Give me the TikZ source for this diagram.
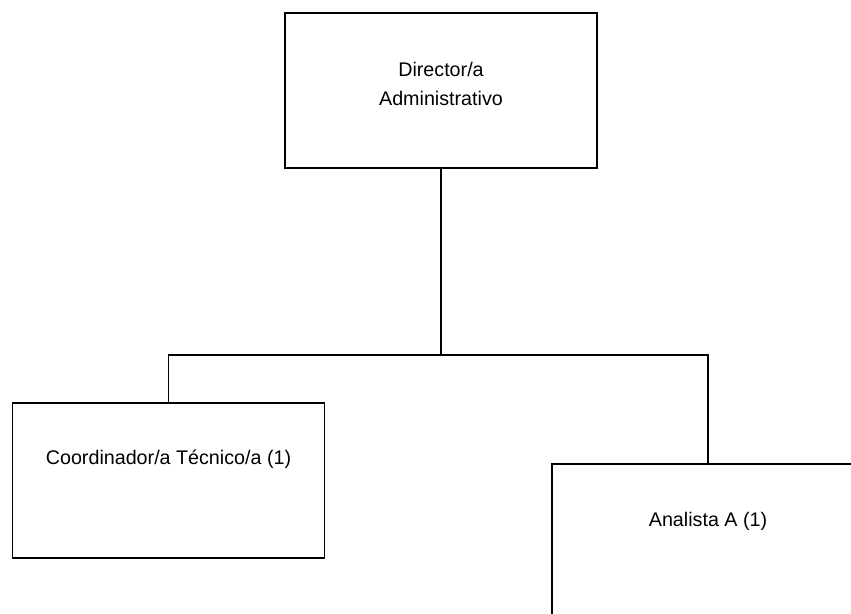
\documentclass[tikz,border=0pt]{standalone}
\usepackage{fontspec}
\setmainfont{Liberation Sans}
\tikzset{
  orgbox/.style={draw, line width=1.6pt, minimum width=312pt, minimum height=155pt, inner sep=0pt},
  orgtext/.style={anchor=base, align=center, inner sep=0pt, font=\fontsize{19.7}{29}\selectfont},
  orgline/.style={line width=1.6pt}
}
\begin{document}
\begin{tikzpicture}[x=1pt, y=-1pt]
  \clip (0, 0) rectangle (851, 613);

  % boxes
  \node[orgbox] (dir) at (441, 90.5) {};
  \node[orgbox] (coord) at (168.5, 480.5) {};
  \node[orgbox] (anal) at (708, 541.5) {};

  \node[orgtext] (dirtext) at ([yshift=-93pt]dir.north) {Director/a\\Administrativo};
  \node[orgtext] (coordtext) at ([yshift=-62pt]coord.north) {Coordinador/a Técnico/a (1)};
  \node[orgtext] (analtext) at ([yshift=-63pt]anal.north) {Analista A (1)};

  % connectors
  \coordinate (bus) at (441, 355);
  \draw[orgline] (dir.south) -- (bus);
  \draw[orgline] (bus) -| (coord.north);
  \draw[orgline] (bus) -| (anal.north);
\end{tikzpicture}
\end{document}
